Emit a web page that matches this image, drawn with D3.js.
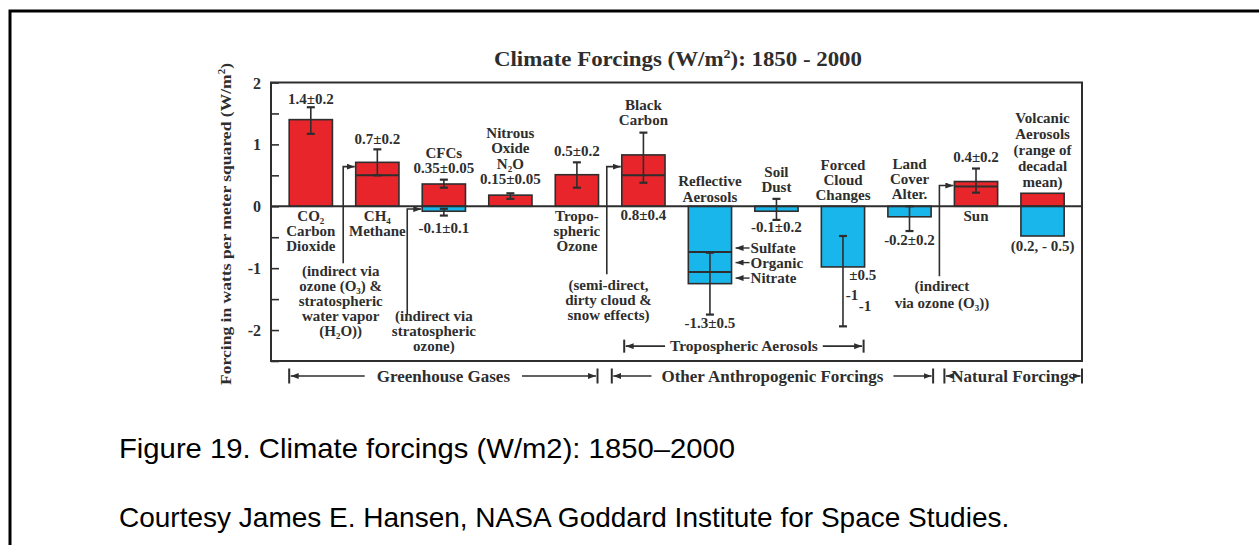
<!DOCTYPE html>
<html><head><meta charset="utf-8">
<script src="https://cdn.jsdelivr.net/npm/d3@7"></script>
<style>
html,body{margin:0;padding:0;background:#fff;}
svg{display:block;}
</style></head><body>
<svg id="chart" width="1259" height="545"></svg>
<script>
// ---------------- DATA ----------------
const categories = ["CO2","CH4","CFCs","N2O","Tropospheric Ozone","Black Carbon","Reflective Aerosols","Soil Dust","Forced Cloud Changes","Land Cover Alter.","Sun","Volcanic Aerosols"];
const positiveForcing = [1.4, 0.71, 0.36, 0.18, 0.51, 0.83, 0, 0, 0, 0, 0.4, 0.21];
const negativeForcing = [0, 0, -0.08, 0, 0, 0, -1.25, -0.08, -0.98, -0.17, 0, -0.48];
const segmentDividers = [[], [0.5], [], [], [], [0.5], [-0.74, -1.06], [], [], [], [0.32], []];
const errorLow  = [1.17, 0.5, 0.3, 0.12, 0.3, 0.38, -1.75, -0.22, -1.94, -0.4, 0.22, null];
const errorHigh = [1.6, 0.92, 0.43, 0.21, 0.71, 1.19, -0.75, 0.12, -0.48, 0, 0.61, null];
const secondErrorLow  = [null, null, -0.15, null, null, null, null, null, null, null, null, null];
const secondErrorHigh = [null, null, -0.04, null, null, null, null, null, null, null, null, null];
const yTickValues = [-2.5, -2, -1.5, -1, -0.5, 0, 0.5, 1, 1.5, 2];
const labelsAbove = [["1.4±0.2"], ["0.7±0.2"], ["CFCs","0.35±0.05"], ["Nitrous","Oxide","N₂O","0.15±0.05"], ["0.5±0.2"], ["Black","Carbon"], ["Reflective","Aerosols"], ["Soil","Dust"], ["Forced","Cloud","Changes"], ["Land","Cover","Alter."], ["0.4±0.2"], ["Volcanic","Aerosols","(range of","decadal","mean)"]];
const labelsBelow = [["CO₂","Carbon","Dioxide"], ["CH₄","Methane"], ["-0.1±0.1"], [], ["Tropo-","spheric","Ozone"], ["0.8±0.4"], ["-1.3±0.5"], ["-0.1±0.2"], [], ["-0.2±0.2"], ["Sun"], ["(0.2, - 0.5)"]];
const indirectNotes = [
  {cat:"CH4", lines:["(indirect via","ozone (O₃) &","stratospheric","water vapor","(H₂O))"]},
  {cat:"CFCs", lines:["(indirect via","stratospheric","ozone)"]},
  {cat:"Black Carbon", lines:["(semi-direct,","dirty cloud &","snow effects)"]},
  {cat:"Sun", lines:["(indirect","via ozone (O₃))"]}
];
const aerosolComponents = ["Sulfate","Organic","Nitrate"];
const cloudNotes = ["±0.5","-1","-1"];
const groupLabels = ["Greenhouse Gases","Other Anthropogenic Forcings","Natural Forcings"];
const subGroupLabel = "Tropospheric Aerosols";
const titleText = "Climate Forcings (W/m^{2}): 1850 - 2000";
const yAxisTitle = "Forcing in watts per meter squared (W/m^{2})";
const captionLines = ["Figure 19. Climate forcings (W/m2): 1850–2000","Courtesy James E. Hansen, NASA Goddard Institute for Space Studies."];

// ---------------- LAYOUT ----------------
const RED = "#e8252b", BLUE = "#18b6ea", INK = "#2e2e2e";
const SERIF = "'Liberation Serif','Times New Roman',Times,serif";
const frame = {left:271, right:1082, top:82.5, bottom:361};
const svg = d3.select("#chart");
const y = d3.scaleLinear().domain([-2.5, 2]).range([361, 82.5]);
const x = d3.scaleBand().domain(categories).range([277.55, 1075.8]).paddingInner(0.35).paddingOuter(0.175);
const bw = x.bandwidth();
const cx = c => x(c) + bw/2;

function rich(sel, str, fs){
  let shift = 0;
  str.split(/(_\{[^}]*\}|\^\{[^}]*\})/).filter(s => s !== "").forEach(part => {
    let target = 0, txt = part, size = null;
    if (part.startsWith("_{")) { target = fs*0.18; txt = part.slice(2,-1); size = fs*0.62; }
    else if (part.startsWith("^{")) { target = -fs*0.38; txt = part.slice(2,-1); size = fs*0.62; }
    const t = sel.append("tspan").attr("dy", target - shift).text(txt);
    if (size) t.attr("font-size", size);
    shift = target;
  });
}
function multiline(g, lines, xc, y0, lh, fs, anchor){
  lines.forEach((ln, i) => {
    const t = g.append("text").attr("x", xc).attr("y", y0 + i*lh)
      .attr("text-anchor", anchor || "middle").attr("font-family", SERIF)
      .attr("font-weight", "bold").attr("font-size", fs).attr("fill", INK);
    rich(t, ln, fs);
  });
}

// outer box
svg.append("path").attr("d", "M10,545V11H1259").attr("fill","none").attr("stroke","#000").attr("stroke-width",3);

// arrow marker
const defs = svg.append("defs");
defs.append("marker").attr("id","ah").attr("viewBox","0 0 8 6").attr("refX",8).attr("refY",3)
  .attr("markerWidth",8).attr("markerHeight",6).attr("markerUnits","userSpaceOnUse").attr("orient","auto-start-reverse")
  .append("path").attr("d","M0,0L8,3L0,6Z").attr("fill",INK);

// title
const title = svg.append("text").attr("x", 678).attr("y", 66).attr("text-anchor","middle")
  .attr("font-family", SERIF).attr("font-weight","bold").attr("font-size",20).attr("fill",INK)
  .attr("textLength", 368).attr("lengthAdjust","spacingAndGlyphs");
rich(title, titleText, 20);

// y axis title
const yt = svg.append("text").attr("transform", `translate(231,${(62+386)/2}) rotate(-90)`).attr("text-anchor","middle")
  .attr("font-family", SERIF).attr("font-weight","bold").attr("font-size",15).attr("fill",INK)
  .attr("textLength", 322).attr("lengthAdjust","spacingAndGlyphs");
rich(yt, yAxisTitle, 15);

// y axis
const yAxis = d3.axisLeft(y).tickValues(yTickValues).tickSizeInner(-8).tickSizeOuter(0).tickPadding(10)
  .tickFormat(d => Number.isInteger(d) ? String(d) : "");
const ag = svg.append("g").attr("transform", `translate(${frame.left},0)`).call(yAxis);
ag.select(".domain").remove();
ag.selectAll(".tick line").attr("stroke", INK).attr("stroke-width", 1.6);
ag.selectAll(".tick text").attr("font-family", SERIF).attr("font-weight","bold").attr("font-size",16).attr("fill",INK).attr("dy","0.35em");

// bars
const bars = svg.append("g");
categories.forEach((c, i) => {
  if (positiveForcing[i] > 0)
    bars.append("rect").attr("x", x(c)).attr("width", bw).attr("y", y(positiveForcing[i])).attr("height", y(0) - y(positiveForcing[i]))
      .attr("fill", RED).attr("stroke", INK).attr("stroke-width", 1.6);
  if (negativeForcing[i] < 0)
    bars.append("rect").attr("x", x(c)).attr("width", bw).attr("y", y(0)).attr("height", y(negativeForcing[i]) - y(0))
      .attr("fill", BLUE).attr("stroke", INK).attr("stroke-width", 1.6);
  segmentDividers[i].forEach(v => {
    bars.append("line").attr("x1", x(c)).attr("x2", x(c)+bw).attr("y1", y(v)).attr("y2", y(v)).attr("stroke", INK).attr("stroke-width", 2);
  });
});

// error bars
function errBar(c, lo, hi){
  const g = svg.append("g").attr("stroke", INK).attr("stroke-width", 1.6);
  g.append("line").attr("x1", cx(c)).attr("x2", cx(c)).attr("y1", y(lo)).attr("y2", y(hi));
  [lo, hi].forEach(v => g.append("line").attr("x1", cx(c)-4).attr("x2", cx(c)+4).attr("y1", y(v)).attr("y2", y(v)).attr("stroke-width", 2.2));
}
categories.forEach((c, i) => {
  if (errorLow[i] !== null) errBar(c, errorLow[i], errorHigh[i]);
  if (secondErrorLow[i] !== null) errBar(c, secondErrorLow[i], secondErrorHigh[i]);
});

// frame & zero line
svg.append("rect").attr("x", frame.left).attr("y", frame.top).attr("width", frame.right - frame.left).attr("height", frame.bottom - frame.top)
  .attr("fill","none").attr("stroke", INK).attr("stroke-width", 2);
svg.append("line").attr("x1", frame.left).attr("x2", frame.right).attr("y1", y(0)).attr("y2", y(0)).attr("stroke", INK).attr("stroke-width", 2);

// labels above / below
const aboveStart = [1.65, 1.01, 0.78, 1.10, 0.81, 1.56, 0.32, 0.48, 0.59, 0.61, 0.72, 1.35];
const belowStart = [-0.245, -0.245, -0.43, 0, -0.245, -0.22, -1.96, -0.41, 0, -0.62, -0.245, -0.73];
const lbl = svg.append("g");
categories.forEach((c, i) => {
  multiline(lbl, labelsAbove[i], cx(c), y(aboveStart[i]), i === 11 ? 16 : 15.2, 15);
  multiline(lbl, labelsBelow[i], cx(c), y(belowStart[i]), 15, 15);
});

// indirect notes with arrows
const noteLayout = {
  "CH4": {dx:-12.5, arrowY:0.64, lineEnd:-0.92, textDx:-15, textY:-1.12, lh:15},
  "CFCs": {dx:-15, arrowY:-0.045, lineEnd:-1.75, textDx:11.7, textY:-1.86, lh:15},
  "Black Carbon": {dx:-15, arrowY:0.64, lineEnd:-1.1, textDx:-13.3, textY:-1.36, lh:15},
  "Sun": {dx:-15, arrowY:0.335, lineEnd:-1.13, textDx:-12.5, textY:-1.37, lh:16.6}
};
indirectNotes.forEach(n => {
  const L = noteLayout[n.cat];
  const xv = x(n.cat) + L.dx;
  svg.append("path").attr("d", `M${xv},${y(L.lineEnd)}V${y(L.arrowY)}H${x(n.cat)-1}`)
    .attr("fill","none").attr("stroke", INK).attr("stroke-width", 1.6).attr("marker-end","url(#ah)");
  multiline(lbl, n.lines, x(n.cat) + L.textDx, y(L.textY), L.lh, 15);
});

// aerosol components
const compY = [-0.674, -0.91, -1.16];
aerosolComponents.forEach((t, i) => {
  const xr = x("Reflective Aerosols") + bw;
  svg.append("line").attr("x1", xr + 18).attr("x2", xr + 4).attr("y1", y(compY[i])).attr("y2", y(compY[i]))
    .attr("stroke", INK).attr("stroke-width", 1.4).attr("marker-end","url(#ah)");
  multiline(lbl, [t], xr + 19, y(compY[i]) + 5, 15, 15, "start");
});

// cloud notes
const cloudPos = [[28, -1.19], [24.3, -1.51], [37.3, -1.70]];
cloudNotes.forEach((t, i) => {
  multiline(lbl, [t], x("Forced Cloud Changes") + cloudPos[i][0], y(cloudPos[i][1]), 15, 15, "start");
});

// brackets
function bracket(xl, xr, yy, text, fs, gap, tickH){
  const xc = (xl + xr)/2;
  const t = svg.append("text").attr("x", xc).attr("y", yy + fs*0.33).attr("text-anchor","middle")
    .attr("font-family", SERIF).attr("font-weight","bold").attr("font-size", fs).attr("fill", INK).text(text);
  const w = t.node().getComputedTextLength();
  const g = svg.append("g").attr("stroke", INK).attr("stroke-width", 1.6);
  g.append("line").attr("x1", xc - w/2 - gap).attr("x2", xl + 1.5).attr("y1", yy).attr("y2", yy).attr("marker-end","url(#ah)");
  g.append("line").attr("x1", xc + w/2 + gap).attr("x2", xr - 1.5).attr("y1", yy).attr("y2", yy).attr("marker-end","url(#ah)");
  [xl, xr].forEach(xx => g.append("line").attr("x1", xx).attr("x2", xx).attr("y1", yy - tickH/2).attr("y2", yy + tickH/2).attr("stroke-width", 2));
}
bracket(x("Black Carbon") + 2.4, x("Forced Cloud Changes") + bw - 1, y(-2.26), subGroupLabel, 15.5, 5, 13);
const gy = frame.bottom + 15;
bracket(x("CO2"), x("Tropospheric Ozone") + bw - 1, gy, groupLabels[0], 17, 12, 15);
bracket(x("Black Carbon") - 10, x("Land Cover Alter.") + bw + 2, gy, groupLabels[1], 17, 10, 15);
bracket(x("Sun") - 10, frame.right, gy, groupLabels[2], 17, 1, 15);

// captions
svg.append("text").attr("x", 119).attr("y", 458).attr("font-family","'Liberation Sans',Arial,sans-serif").attr("font-size", 28).attr("fill","#000")
  .attr("textLength", 616).attr("lengthAdjust","spacingAndGlyphs").text(captionLines[0]);
svg.append("text").attr("x", 119).attr("y", 527).attr("font-family","'Liberation Sans',Arial,sans-serif").attr("font-size", 28).attr("fill","#000").text(captionLines[1]);
</script>
</body></html>
